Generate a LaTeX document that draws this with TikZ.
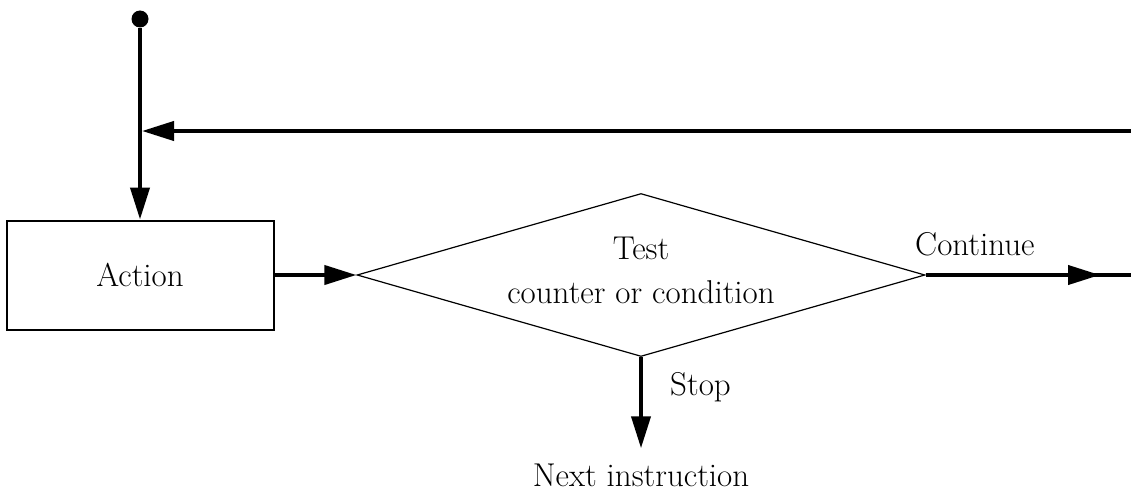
\documentclass[tikz,border=0pt]{standalone}
\usetikzlibrary{arrows.meta,shapes.geometric}
\begin{document}
\begin{tikzpicture}[x=1pt,y=-1pt,
  flow/.style={line width=4pt},
  tip/.style={-{Triangle[length=32pt,width=19pt]}},
  lbl/.style={font=\fontsize{33}{44}\selectfont, inner sep=0pt},
]
\useasboundingbox (0,0) rectangle (1131,492);

% entry point and loop-back line
\node[circle, fill, minimum size=17pt, inner sep=0pt] (start) at (140,19) {};
\coordinate (inR) at (1131,131);
\coordinate (join) at (142,131);

% action box
\node[draw, line width=2pt, minimum width=267pt, minimum height=109pt,
      inner sep=0pt, lbl] (action) at (140,275) {Action};

% decision diamond and its text
\node[draw, diamond, line width=1.2pt, minimum width=568pt, minimum height=163pt,
      inner sep=0pt] (test) at (641,275) {};
\node[lbl, align=center] (testtxt) at (641,270) {Test\\counter or condition};

% exits
\coordinate (cont) at (1100,275);
\coordinate (outR) at (1131,275);
\node[lbl, anchor=base] (next) at (641,486) {Next instruction};
\node[lbl, anchor=base west] (contlbl) at (915,255) {Continue};
\node[lbl, anchor=base west] (stoplbl) at (670,395) {Stop};

% connectors
\draw[flow,tip] (inR) -- (join);
\draw[flow,tip] (start) -- (action.north);
\draw[flow,tip] (action.east) -- (test.west);
\draw[flow] (test.east) -- (outR);
\draw[flow,tip] (test.east) -- (cont);
\draw[flow,tip,shorten >=15pt] (test.south) -- (next.north);
\end{tikzpicture}
\end{document}
